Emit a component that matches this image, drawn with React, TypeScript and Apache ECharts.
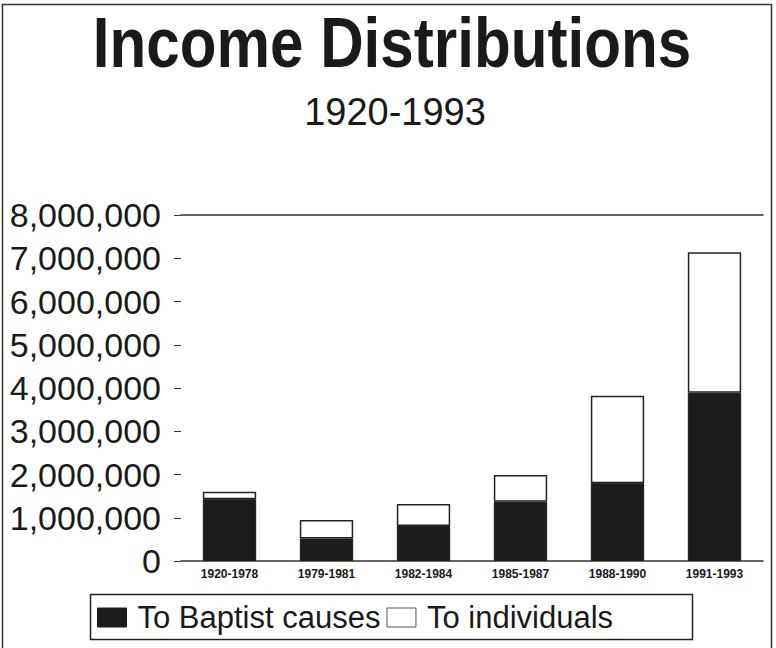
import React, { useEffect, useRef } from 'react';
import * as echarts from 'echarts';

const categories = ['1920-1978', '1979-1981', '1982-1984', '1985-1987', '1988-1990', '1991-1993'];
const baptistCauses = [1430000, 520000, 810000, 1370000, 1800000, 3890000];
const individuals = [170000, 430000, 510000, 620000, 2020000, 3250000];
const seriesNames = ['To Baptist causes', 'To individuals'];
const titleText = 'Income Distributions';
const subtitleText = '1920-1993';
const yMin = 0;
const yMax = 8000000;
const yInterval = 1000000;

const FONT = "'Liberation Sans', Arial, Helvetica, sans-serif";

export default function App() {
  const ref = useRef<HTMLDivElement>(null);
  useEffect(() => {
    if (!ref.current) return;
    const chart = echarts.init(ref.current, undefined, { renderer: 'svg' });
    chart.setOption({
      animation: false,
      backgroundColor: '#ffffff',
      legend: {
        left: 92,
        top: 597,
        itemWidth: 29,
        itemHeight: 19,
        itemGap: 6,
        icon: 'rect',
        textStyle: {
          fontFamily: FONT,
          fontSize: 31,
          color: '#1a1a1a',
          padding: [0, 0, 0, 6],
        },
        data: [
          { name: seriesNames[0], itemStyle: { color: '#1c1c1c', borderColor: '#1c1c1c', borderWidth: 1 } },
          { name: seriesNames[1], itemStyle: { color: '#ffffff', borderColor: '#555555', borderWidth: 1 } },
        ],
      },
      grid: { left: 181, right: 13, top: 215, bottom: 87 },
      xAxis: [
        {
          type: 'category',
          data: categories,
          axisLine: { show: true, lineStyle: { color: '#333333', width: 1.5 } },
          axisTick: { show: false },
          axisLabel: {
            fontFamily: FONT,
            fontWeight: 'bold',
            fontSize: 12,
            color: '#1a1a1a',
            margin: 7,
          },
        },
        {
          type: 'category',
          position: 'top',
          data: categories,
          axisLine: { show: true, lineStyle: { color: '#333333', width: 1.5 } },
          axisTick: { show: false },
          axisLabel: { show: false },
        },
      ],
      yAxis: {
        type: 'value',
        min: yMin,
        max: yMax,
        interval: yInterval,
        axisLine: { show: false },
        axisTick: { show: true, length: 7, lineStyle: { color: '#333333', width: 1 } },
        splitLine: { show: false },
        axisLabel: {
          fontFamily: FONT,
          fontSize: 34,
          color: '#1a1a1a',
          margin: 20,
          formatter: (v: number) => v.toLocaleString('en-US'),
        },
      },
      series: [
        {
          name: seriesNames[0],
          type: 'bar',
          stack: 'total',
          barWidth: '55%',
          data: baptistCauses,
          itemStyle: { color: '#1c1c1c', borderColor: '#1c1c1c', borderWidth: 1 },
        },
        {
          name: seriesNames[1],
          type: 'bar',
          stack: 'total',
          barWidth: '55%',
          data: individuals,
          itemStyle: { color: '#ffffff', borderColor: '#222222', borderWidth: 1.5 },
        },
      ],
      graphic: [
        {
          type: 'text',
          x: 392,
          y: 43,
          scaleX: 0.86,
          style: {
            text: titleText,
            fontFamily: FONT,
            fontWeight: 'bold',
            fontSize: 70,
            fill: '#1a1a1a',
            textAlign: 'center',
            textVerticalAlign: 'middle',
          },
          silent: true,
        },
        {
          type: 'text',
          x: 395,
          y: 111.5,
          style: {
            text: subtitleText,
            fontFamily: FONT,
            fontSize: 38,
            fill: '#1a1a1a',
            textAlign: 'center',
            textVerticalAlign: 'middle',
          },
          silent: true,
        },
        {
          type: 'rect',
          shape: { x: 2.5, y: 4.5, width: 769, height: 660 },
          style: { fill: 'none', stroke: '#333333', lineWidth: 1.5 },
          silent: true,
        },
        {
          type: 'rect',
          shape: { x: 90.5, y: 594.5, width: 602, height: 45 },
          style: { fill: 'none', stroke: '#222222', lineWidth: 1.5 },
          silent: true,
          z: -1,
        },
      ],
    });
    return () => chart.dispose();
  }, []);
  return (
    <div
      ref={ref}
      style={{ position: 'fixed', left: 0, top: 0, width: 776, height: 648 }}
    />
  );
}
